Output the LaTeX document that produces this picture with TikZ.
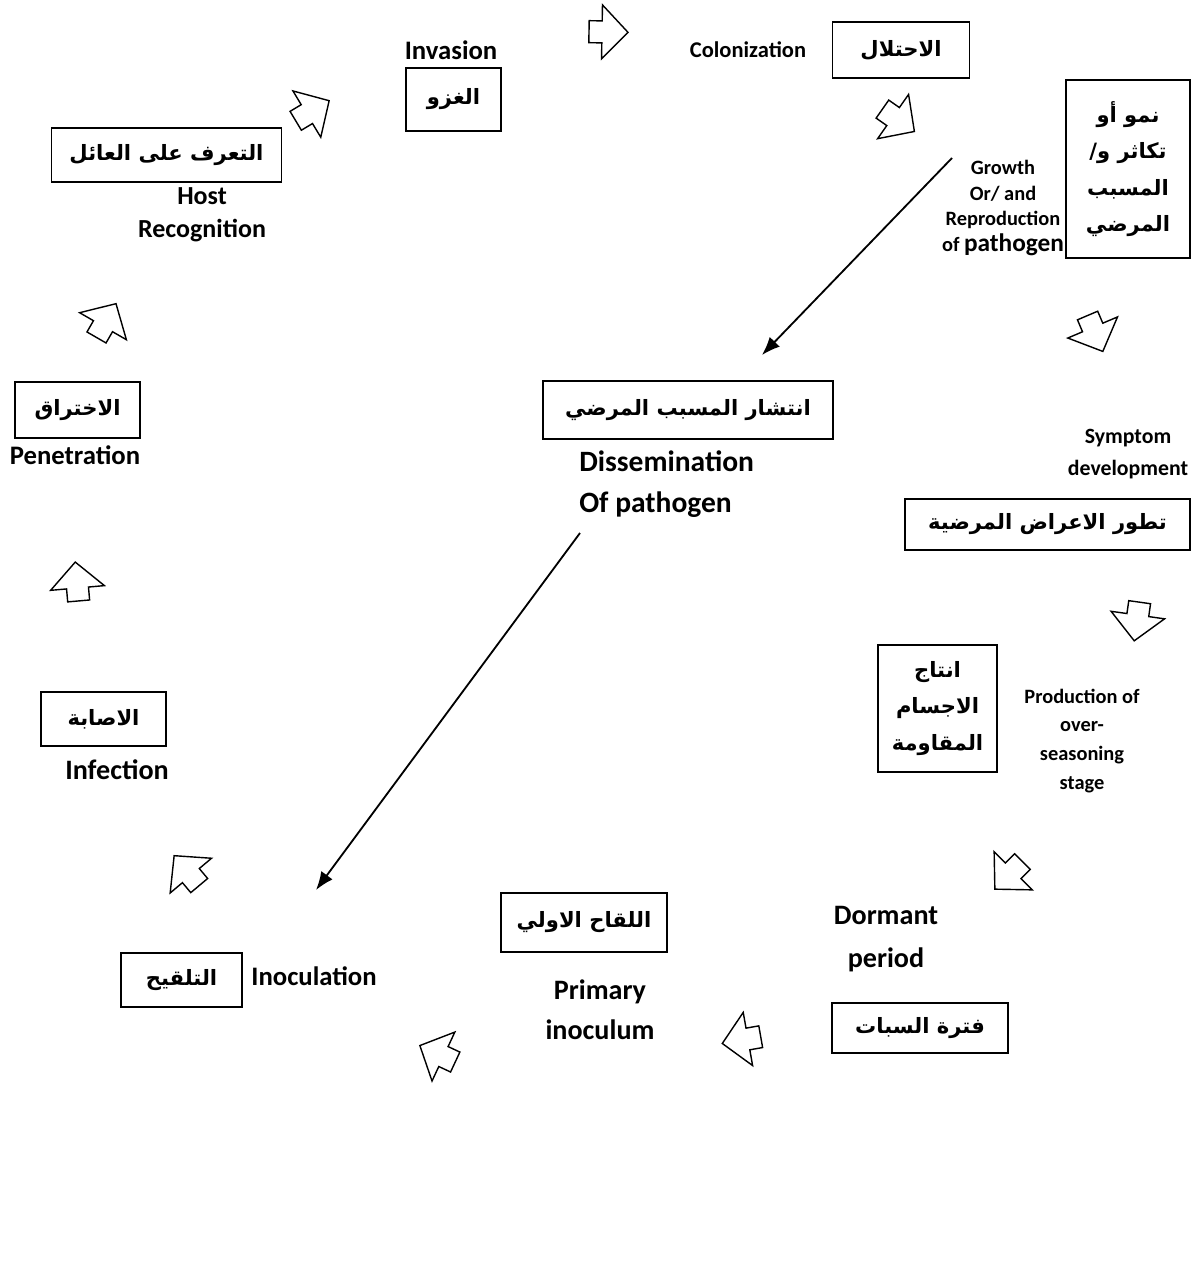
\documentclass[tikz,border=0pt]{standalone}
\usepackage{fontspec}
\setmainfont{Carlito}
\newfontfamily\arabicfont[Script=Arabic]{DejaVu Sans}
\TeXXeTstate=1
\usetikzlibrary{arrows.meta}
\newcommand{\artxt}[1]{\beginR #1\endR}

\begin{document}
\begin{tikzpicture}[x=0.025cm,y=-0.025cm,
    box/.style={draw,line width=0.8pt,inner sep=2pt,align=center,
      font=\arabicfont\bfseries\fontsize{15}{26}\selectfont},
    lbl/.style={align=center,inner sep=0pt,font=\bfseries\fontsize{19}{29}\selectfont},
    lblsm/.style={align=center,inner sep=0pt,font=\bfseries\fontsize{14.5}{18.4}\selectfont},
    link/.style={line width=1.3pt,-{Latex[length=13pt,width=10pt]}},
    turn/.style={line width=1pt,fill=white,line join=miter}]

    \useasboundingbox (0,0) rectangle (1201,1264);

    \node[box,minimum width=2.375cm,minimum height=1.575cm] (inv) at (453.5,99.5) {\artxt{الغزو}};
    \node[box,minimum width=3.425cm,minimum height=1.4cm] (col) at (901,50) {\artxt{الاحتلال}};
    \node[box,minimum width=3.1cm,minimum height=4.45cm] (grw) at (1128,169)
        {\artxt{نمو أو}\\ \artxt{تكاثر و/}\\ \artxt{المسبب}\\ \artxt{المرضي}};
    \node[box,minimum width=7.25cm,minimum height=1.45cm] (dis) at (688,410) {\artxt{انتشار المسبب المرضي}};
    \node[box,minimum width=7.125cm,minimum height=1.275cm] (sym) at (1047.5,524.5) {\artxt{تطور الاعراض المرضية}};
    \node[box,minimum width=2.975cm,minimum height=3.175cm] (ovs) at (937.5,708.5)
        {\artxt{انتاج}\\ \artxt{الاجسام}\\ \artxt{المقاومة}};
    \node[box,minimum width=4.4cm,minimum height=1.25cm] (dor) at (920,1028) {\artxt{فترة السبات}};
    \node[box,minimum width=4.15cm,minimum height=1.475cm] (pri) at (584,922.5) {\artxt{اللقاح الاولي}};
    \node[box,minimum width=3.025cm,minimum height=1.35cm] (ino) at (181.5,980) {\artxt{التلقيح}};
    \node[box,minimum width=3.125cm,minimum height=1.35cm] (inf) at (103.5,719) {\artxt{الاصابة}};
    \node[box,minimum width=3.125cm,minimum height=1.4cm] (pen) at (77.5,410) {\artxt{الاختراق}};
    \node[box,minimum width=5.75cm,minimum height=1.35cm] (hst) at (166.5,155) {\artxt{التعرف على العائل}};

    \node[lbl] (ninv) at (451,50) {Invasion};
    \node[lbl,font=\bfseries\fontsize{16}{20}\selectfont] (ncol) at (748,50) {Colonization};
    \node[lblsm] (ngrw) at (1003,208) {Growth\\Or/ and\\Reproduction\\of {\fontsize{18}{18.4}\selectfont pathogen}};
    \node[lbl,align=left,anchor=west,font=\bfseries\fontsize{21}{29}\selectfont] (ndis) at (579,484) {Dissemination\\Of pathogen};
    \node[lbl,font=\bfseries\fontsize{15.5}{22.7}\selectfont] (nsym) at (1128,454) {Symptom\\development};
    \node[lblsm,font=\bfseries\fontsize{14.5}{20.6}\selectfont] (novs) at (1082,741) {Production of\\over-\\seasoning\\stage};
    \node[lbl,font=\bfseries\fontsize{20}{30}\selectfont] (ndor) at (886,939) {Dormant\\period};
    \node[lbl,font=\bfseries\fontsize{20}{28.5}\selectfont] (npri) at (600,1010) {Primary\\inoculum};
    \node[lbl] (nino) at (314,976) {Inoculation};
    \node[lbl,font=\bfseries\fontsize{20}{29}\selectfont] (ninf) at (117,770) {Infection};
    \node[lbl] (npen) at (75,455) {Penetration};
    \node[lbl,font=\bfseries\fontsize{18.5}{23.4}\selectfont] (nhst) at (202,215) {Host\\Recognition};

    \coordinate (g1) at (952,158);
    \coordinate (g2) at (762,355);
    \coordinate (d1) at (580,533);
    \coordinate (d2) at (316,890);
    \draw[link] (g1) -- (g2);
    \draw[link] (d1) -- (d2);

    \foreach \x/\y/\a in {312/111/31, 608/32/-1, 898/120/-35, 1095/333/-67,
                          1137/621/-98, 1009/875/-135, 742/1040/190, 438/1054/155,
                          187/871/130, 77/582/95, 106/321/60}
      \draw[turn,shift={(\x,\y)},rotate=\a]
        (20,0) -- (-6,-27) -- (-6,-11) -- (-19,-11)
        -- (-19,11) -- (-6,11) -- (-6,27) -- cycle;
\end{tikzpicture}
\end{document}
